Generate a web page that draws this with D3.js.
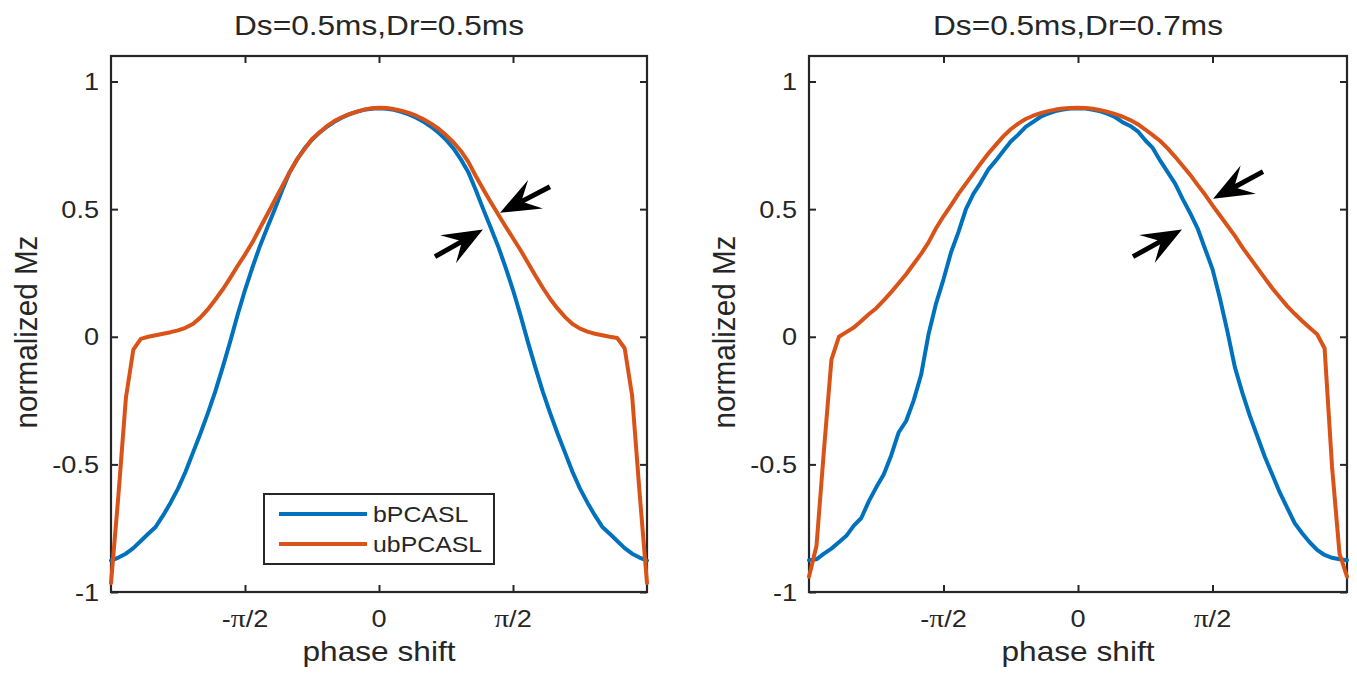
<!DOCTYPE html>
<html>
<head>
<meta charset="utf-8">
<script src="https://cdn.jsdelivr.net/npm/d3@7/dist/d3.min.js"></script>
<style>
  body { margin: 0; background: #ffffff; }
  text { font-family: "Liberation Sans", Arial, Helvetica, sans-serif; fill: #262626; }
</style>
</head>
<body>
<svg id="fig" width="1357" height="675"></svg>
<script>
// Phase shift samples, in degrees
const phaseDeg = [-180,-175,-170,-165,-160,-155,-150,-145,-140,-135,-130,-125,-120,-115,-110,-105,-100,-95,-90,-85,-80,-75,-70,-65,-60,-55,-50,-45,-40,-35,-30,-25,-20,-15,-10,-5,0,
  5,10,15,20,25,30,35,40,45,50,55,60,65,70,75,80,85,90,95,100,105,110,115,120,125,130,135,140,145,150,155,160,165,170,175,180];

// Ds=0.5ms, Dr=0.5ms
const bPCASL_05 = [-0.877,-0.865,-0.85,-0.828,-0.80,-0.772,-0.745,-0.70,-0.65,-0.595,-0.53,-0.455,-0.38,-0.30,-0.215,-0.12,-0.02,0.085,0.183,0.272,0.355,0.428,0.50,0.575,0.645,0.695,0.738,0.772,0.80,0.823,0.842,0.858,0.871,0.881,0.889,0.893,0.895,
  0.893,0.889,0.881,0.871,0.858,0.842,0.823,0.80,0.772,0.738,0.695,0.645,0.575,0.50,0.428,0.355,0.272,0.183,0.085,-0.02,-0.12,-0.215,-0.30,-0.38,-0.455,-0.53,-0.595,-0.65,-0.70,-0.745,-0.772,-0.80,-0.828,-0.85,-0.865,-0.877];
const ubPCASL_05 = [-0.965,-0.62,-0.24,-0.05,-0.008,0.0,0.006,0.012,0.018,0.025,0.035,0.05,0.075,0.107,0.145,0.185,0.23,0.277,0.322,0.37,0.425,0.48,0.535,0.59,0.645,0.695,0.735,0.775,0.80,0.825,0.845,0.86,0.872,0.882,0.89,0.895,0.897,
  0.896,0.892,0.886,0.877,0.866,0.852,0.835,0.815,0.79,0.762,0.728,0.685,0.63,0.578,0.528,0.48,0.432,0.386,0.34,0.29,0.24,0.192,0.148,0.11,0.077,0.05,0.032,0.02,0.012,0.006,0.0,-0.005,-0.045,-0.23,-0.61,-0.965];

// Ds=0.5ms, Dr=0.7ms
const bPCASL_07 = [-0.876,-0.872,-0.85,-0.83,-0.805,-0.78,-0.74,-0.71,-0.645,-0.59,-0.54,-0.465,-0.375,-0.33,-0.25,-0.15,0.01,0.13,0.225,0.33,0.41,0.50,0.56,0.605,0.655,0.69,0.728,0.765,0.792,0.822,0.842,0.862,0.874,0.884,0.89,0.894,0.895,
  0.894,0.889,0.883,0.873,0.86,0.84,0.826,0.805,0.77,0.74,0.69,0.645,0.60,0.54,0.485,0.425,0.345,0.265,0.15,0.02,-0.12,-0.22,-0.31,-0.39,-0.47,-0.54,-0.61,-0.67,-0.73,-0.77,-0.805,-0.835,-0.855,-0.866,-0.872,-0.876];
const ubPCASL_07 = [-0.94,-0.82,-0.445,-0.09,0.0,0.018,0.036,0.062,0.088,0.112,0.143,0.175,0.21,0.245,0.285,0.325,0.37,0.425,0.472,0.515,0.56,0.60,0.64,0.68,0.718,0.752,0.785,0.813,0.835,0.853,0.866,0.876,0.884,0.89,0.894,0.896,0.897,
  0.896,0.893,0.888,0.881,0.872,0.862,0.849,0.833,0.812,0.79,0.767,0.738,0.705,0.67,0.635,0.595,0.557,0.515,0.475,0.435,0.395,0.35,0.31,0.27,0.23,0.19,0.155,0.12,0.09,0.062,0.035,0.01,-0.045,-0.51,-0.85,-0.94];

const panelTitles = ["Ds=0.5ms,Dr=0.5ms", "Ds=0.5ms,Dr=0.7ms"];
const seriesNames = ["bPCASL", "ubPCASL"];
const seriesColors = ["#0072BD", "#D95319"];
const yTicks = [-1, -0.5, 0, 0.5, 1];
const yTickLabels = ["-1", "-0.5", "0", "0.5", "1"];
const xTicksDeg = [-90, 0, 90];
const xTickLabels = [["-", "\u03C0", "/2"], ["", "", "0"], ["", "\u03C0", "/2"]];
const xLabel = "phase shift";
const yLabel = "normalized Mz";

// Annotation arrows: tail -> tip, in [phase (deg), Mz]
const arrows05 = [
  { from: [114.8, 0.588], to: [81.3, 0.486] },
  { from: [37.6, 0.314], to: [69.8, 0.420] }
];
const arrows07 = [
  { from: [123.8, 0.647], to: [90.4, 0.541] },
  { from: [36.8, 0.314], to: [69.6, 0.420] }
];

const panels = [
  { title: panelTitles[0], left: 111, right: 647, series: [bPCASL_05, ubPCASL_05], arrows: arrows05, legend: true },
  { title: panelTitles[1], left: 809, right: 1347, series: [bPCASL_07, ubPCASL_07], arrows: arrows07, legend: false }
];

const TOP = 56, BOTTOM = 592;
const AXIS = "#262626";
const SX = 1.13;          // horizontal glyph stretch of the figure text
const TICK_FS = 24, LABEL_FS = 28, TITLE_FS = 28, LEGEND_FS = 22;

const svg = d3.select("#fig");
const rad = d => d * Math.PI / 180;

function stretchedText(g, x, y, str, fs, anchor, rotate) {
  const t = g.append("g")
    .attr("transform", rotate
      ? `translate(${x},${y}) rotate(-90) scale(1.06,${SX})`
      : `translate(${x},${y}) scale(${SX},1)`)
    .append("text")
    .attr("text-anchor", anchor)
    .style("font-size", fs + "px");
  t.text(str);
  return t;
}

panels.forEach(p => {
  const x = d3.scaleLinear().domain([-Math.PI, Math.PI]).range([p.left, p.right]);
  const y = d3.scaleLinear().domain([-1, 1.1]).range([BOTTOM, TOP]);
  const g = svg.append("g");
  const cx = (p.left + p.right) / 2;

  // axes box with inward ticks on all four sides
  const tickLen = 7;
  const axB = d3.axisBottom(x).tickValues(xTicksDeg.map(rad)).tickSize(tickLen).tickFormat("");
  const axT = d3.axisTop(x).tickValues(xTicksDeg.map(rad)).tickSize(tickLen).tickFormat("");
  const axL = d3.axisLeft(y).tickValues(yTicks).tickSize(tickLen).tickFormat("");
  const axR = d3.axisRight(y).tickValues(yTicks).tickSize(tickLen).tickFormat("");
  [[axB, BOTTOM, -1], [axT, TOP, 1]].forEach(([ax, pos, dir]) => {
    const a = g.append("g").attr("transform", `translate(0,${pos})`).call(ax);
    a.selectAll(".tick line").attr("y2", dir * tickLen);
  });
  [[axL, p.left, 1], [axR, p.right, -1]].forEach(([ax, pos, dir]) => {
    const a = g.append("g").attr("transform", `translate(${pos},0)`).call(ax);
    a.selectAll(".tick line").attr("x2", dir * tickLen);
  });
  g.selectAll(".domain").remove();
  g.selectAll(".tick line").attr("stroke", AXIS).attr("stroke-width", 2);
  g.append("rect")
    .attr("x", p.left).attr("y", TOP)
    .attr("width", p.right - p.left).attr("height", BOTTOM - TOP)
    .attr("fill", "none").attr("stroke", AXIS).attr("stroke-width", 2.2);

  // y tick labels
  yTicks.forEach((v, i) => {
    stretchedText(g, p.left - 12, y(v) + TICK_FS * 0.36, yTickLabels[i], TICK_FS, "end");
  });
  // x tick labels (pi in a serif face)
  xTicksDeg.forEach((d, i) => {
    const t = stretchedText(g, x(rad(d)), 627, "", TICK_FS, "middle");
    const [pre, sym, post] = xTickLabels[i];
    if (pre) t.append("tspan").text(pre);
    if (sym) t.append("tspan").style("font-family", "'Liberation Serif', 'DejaVu Serif', serif").style("font-size", (TICK_FS + 2) + "px").text(sym);
    if (post) t.append("tspan").text(post);
  });

  // titles and axis labels
  stretchedText(g, cx, 35, p.title, TITLE_FS, "middle");
  stretchedText(g, cx, 661, xLabel, LABEL_FS, "middle");
  stretchedText(g, p.left - 74, (TOP + BOTTOM) / 2 + 8, yLabel, LABEL_FS, "middle", true);

  // curves
  const line = d3.line()
    .x((d, i) => x(rad(phaseDeg[i])))
    .y(d => y(d));
  p.series.forEach((vals, k) => {
    g.append("path")
      .datum(vals)
      .attr("d", line)
      .attr("fill", "none")
      .attr("stroke", seriesColors[k])
      .attr("stroke-width", 4)
      .attr("stroke-linejoin", "round")
      .attr("stroke-linecap", "round");
  });

  // annotation arrows with barbed heads
  p.arrows.forEach(a => {
    const x0 = x(rad(a.from[0])), y0 = y(a.from[1]);
    const x1 = x(rad(a.to[0])), y1 = y(a.to[1]);
    const len = Math.hypot(x1 - x0, y1 - y0);
    const ux = (x1 - x0) / len, uy = (y1 - y0) / len;
    const nx = -uy, ny = ux;
    const headLen = 40, halfW = 16, notch = 24;
    const b1 = [x1 - headLen * ux + halfW * nx, y1 - headLen * uy + halfW * ny];
    const b2 = [x1 - headLen * ux - halfW * nx, y1 - headLen * uy - halfW * ny];
    const nb = [x1 - notch * ux, y1 - notch * uy];
    g.append("line")
      .attr("x1", x0).attr("y1", y0).attr("x2", nb[0]).attr("y2", nb[1])
      .attr("stroke", "#000").attr("stroke-width", 5);
    g.append("path")
      .attr("d", `M${x1},${y1}L${b1[0]},${b1[1]}L${nb[0]},${nb[1]}L${b2[0]},${b2[1]}Z`)
      .attr("fill", "#000");
  });

  // legend
  if (p.legend) {
    const lx = 264, ly = 494, lw = 230, lh = 70;
    const lg = g.append("g");
    lg.append("rect").attr("x", lx).attr("y", ly).attr("width", lw).attr("height", lh)
      .attr("fill", "#fff").attr("stroke", AXIS).attr("stroke-width", 2);
    seriesNames.forEach((name, k) => {
      const yy = ly + 20 + k * 30;
      lg.append("line").attr("x1", lx + 15).attr("x2", lx + 103).attr("y1", yy).attr("y2", yy)
        .attr("stroke", seriesColors[k]).attr("stroke-width", 4);
      stretchedText(lg, lx + 109, yy + LEGEND_FS * 0.36, name, LEGEND_FS, "start");
    });
  }
});
</script>
</body>
</html>
